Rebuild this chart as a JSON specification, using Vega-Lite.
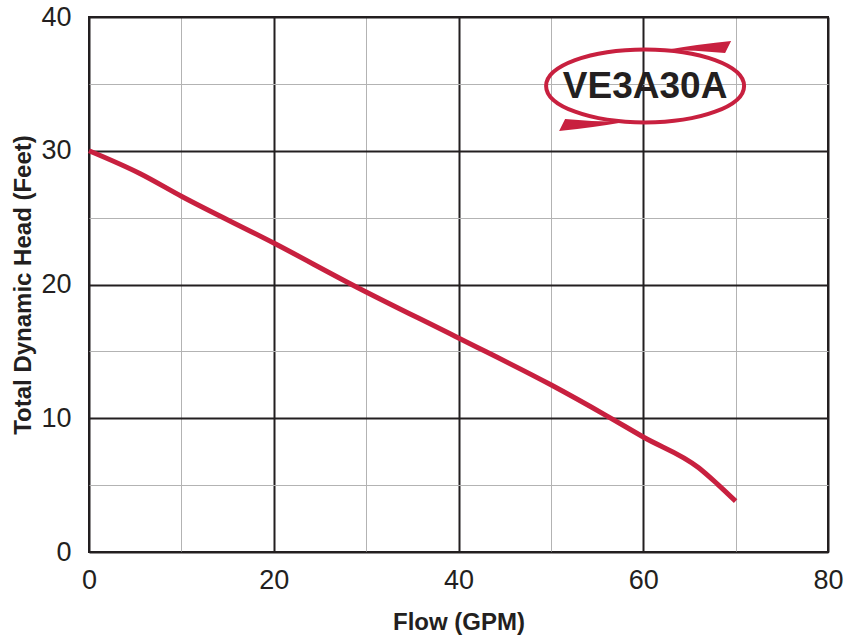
{
  "$schema": "https://vega.github.io/schema/vega-lite/v6.json",
  "width": 739,
  "height": 535,
  "autosize": "none",
  "padding": {"left": 89, "top": 17, "right": 18, "bottom": 85},
  "background": "white",
  "config": {
    "view": {"stroke": "#231f20", "strokeWidth": 2},
    "font": "Liberation Sans"
  },
  "datasets": {
    "curve": [
      {"flow": 0, "head": 30.0},
      {"flow": 5.5, "head": 28.3},
      {"flow": 10, "head": 26.6},
      {"flow": 20, "head": 23.1},
      {"flow": 29, "head": 19.8},
      {"flow": 40, "head": 16.0},
      {"flow": 50, "head": 12.5},
      {"flow": 56, "head": 10.2},
      {"flow": 60, "head": 8.6},
      {"flow": 66, "head": 6.3},
      {"flow": 68, "head": 5.1},
      {"flow": 70, "head": 3.8}
    ],
    "logo": [{"flow": 60.2, "head": 34.85, "label": "VE3A30A"}]
  },
  "encoding": {
    "x": {
      "field": "flow", "type": "quantitative",
      "scale": {"domain": [0, 80], "nice": false, "zero": false},
      "axis": {
        "title": "Flow (GPM)",
        "values": [0, 10, 20, 30, 40, 50, 60, 70, 80],
        "labelExpr": "datum.value % 20 === 0 ? datum.label : ''",
        "labelFontSize": 27, "labelColor": "#231f20", "labelPadding": 15,
        "labelFlush": false, "labelBound": false,
        "ticks": false, "domain": false,
        "titleFontSize": 24, "titleFontWeight": "bold", "titleColor": "#231f20", "titlePadding": 17,
        "gridColor": {"condition": {"test": "datum.value % 20 === 0", "value": "#231f20"}, "value": "#b3b3b3"},
        "gridWidth": {"condition": {"test": "datum.value % 20 === 0", "value": 2}, "value": 1},
        "gridOpacity": 1
      }
    },
    "y": {
      "field": "head", "type": "quantitative",
      "scale": {"domain": [0, 40], "nice": false, "zero": false},
      "axis": {
        "title": "Total Dynamic Head (Feet)",
        "values": [0, 5, 10, 15, 20, 25, 30, 35, 40],
        "labelExpr": "datum.value % 10 === 0 ? datum.label : ''",
        "labelFontSize": 27, "labelColor": "#231f20", "labelPadding": 18,
        "labelFlush": false, "labelBound": false,
        "ticks": false, "domain": false,
        "titleFontSize": 24, "titleFontWeight": "bold", "titleColor": "#231f20", "titlePadding": 5,
        "gridColor": {"condition": {"test": "datum.value % 10 === 0", "value": "#231f20"}, "value": "#b3b3b3"},
        "gridWidth": {"condition": {"test": "datum.value % 10 === 0", "value": 2}, "value": 1},
        "gridOpacity": 1
      }
    }
  },
  "layer": [
    {
      "data": {"name": "curve"},
      "mark": {"type": "line", "color": "#c8203f", "strokeWidth": 5, "interpolate": "monotone", "strokeCap": "butt"}
    },
    {
      "data": {"name": "logo"},
      "mark": {"type": "point", "shape": "M -0.99 0 A 0.99 0.365 0 1 0 0.99 0 A 0.99 0.365 0 1 0 -0.99 0 Z", "size": 40000, "filled": false, "stroke": "#c8203f", "strokeWidth": 4, "opacity": 1}
    },
    {
      "data": {"name": "logo"},
      "mark": {"type": "point", "shape": "M 0.2 -0.36 Q 0.55 -0.42 0.86 -0.45 L 0.80 -0.33 Q 0.5 -0.36 0.2 -0.36 Z M -0.2 0.36 Q -0.55 0.42 -0.86 0.45 L -0.80 0.33 Q -0.5 0.36 -0.2 0.36 Z", "size": 40000, "filled": true, "fill": "#c8203f", "strokeWidth": 0, "opacity": 1}
    },
    {
      "data": {"name": "logo"},
      "mark": {"type": "text", "font": "Liberation Sans", "fontWeight": "bold", "fontSize": 37, "color": "#231f20", "baseline": "middle", "align": "center", "dy": 1},
      "encoding": {"text": {"field": "label"}}
    }
  ]
}
